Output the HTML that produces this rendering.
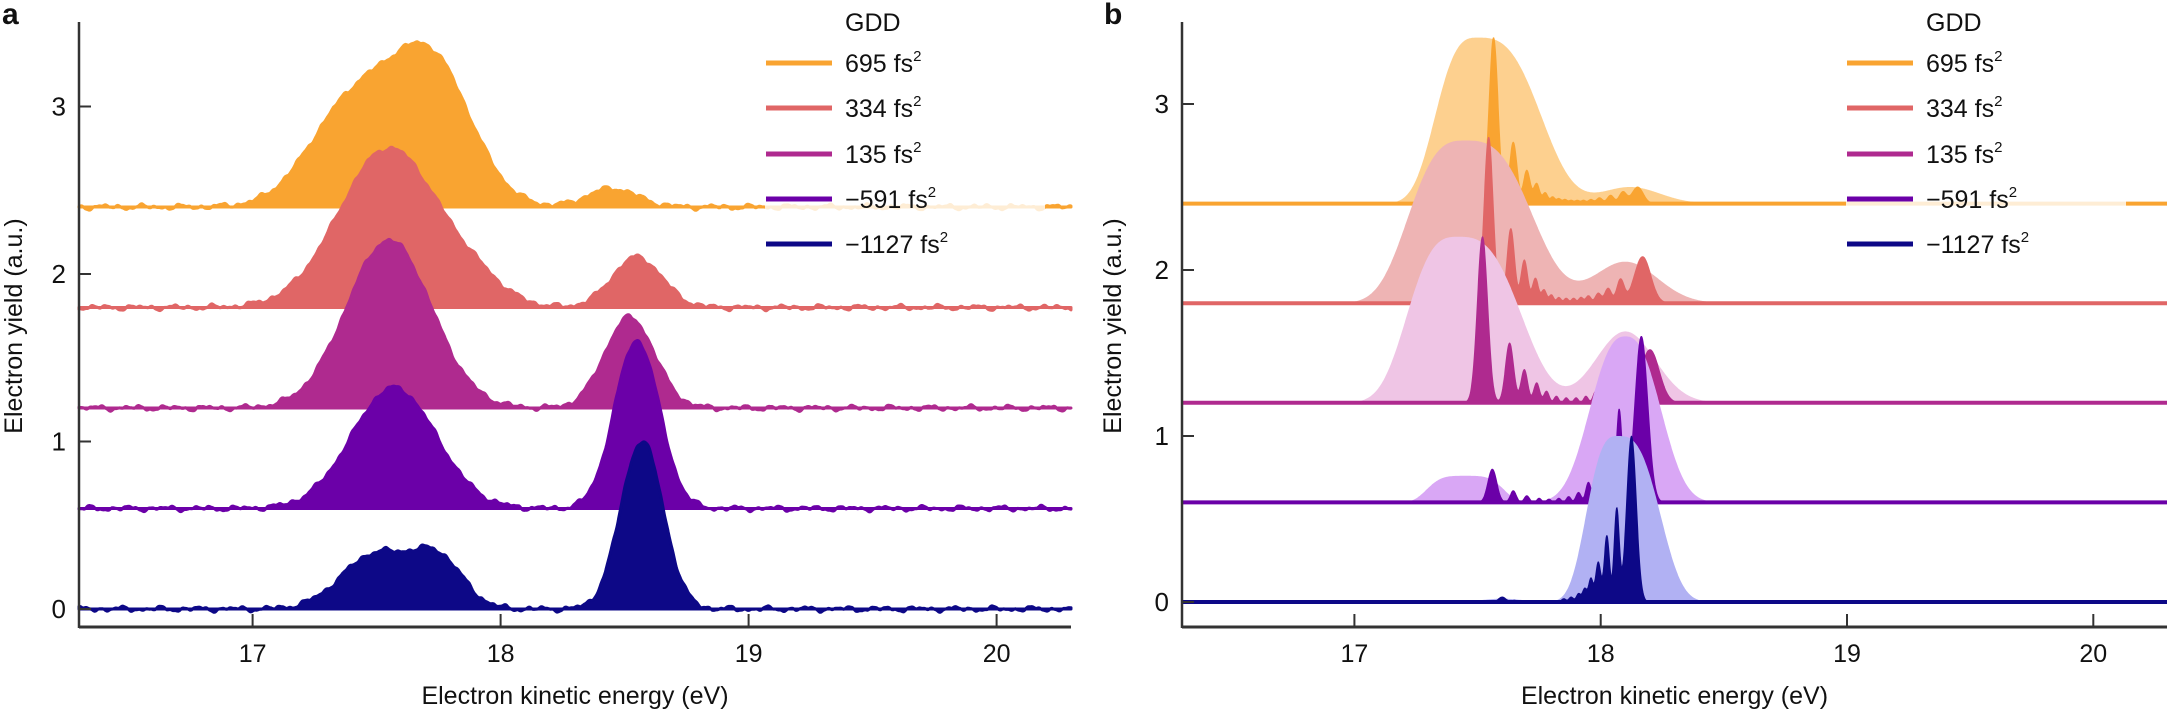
<!DOCTYPE html>
<html><head><meta charset="utf-8"><style>
html,body{margin:0;padding:0;background:#fff;}
svg{display:block;font-family:"Liberation Sans",Arial,sans-serif;}
</style></head><body>
<svg id="s" width="2167" height="710" viewBox="0 0 2167 710" xmlns="http://www.w3.org/2000/svg">
<g id="plots"></g>
<g id="ov"></g>
</svg>
<script>
const NS="http://www.w3.org/2000/svg";
const plots=document.getElementById('plots'), ov=document.getElementById('ov');
function el(p,t,a,txt){const e=document.createElementNS(NS,t);for(const k in a)e.setAttribute(k,a[k]);if(txt!==undefined)e.textContent=txt;p.appendChild(e);return e;}
const g=(x,m,s)=>Math.exp(-((x-m)*(x-m))/(2*s*s));
const sg=(x,m,w,p)=>Math.exp(-Math.pow(Math.abs((x-m)/w),p));
const asg=(x,m,wl,wr,p)=>Math.exp(-Math.pow(Math.abs((x-m)/(x<m?wl:wr)),p));
const pa={x0:79,k:248,y0:609,ky:167.5,x1:1071};
const pb={x0:1182,k:246.3,y0:602,ky:166,x1:2167};
const X=(E,p)=>p.x0+(E-16.3)*p.k, Y=(v,p)=>p.y0-v*p.ky;
function noise(E,s){return 0.008*Math.sin(E*41+s)+0.006*Math.sin(E*77+s*3)+0.005*Math.sin(E*131+s*7)+0.002*Math.sin(E*260+s*2);}
function area(p,base,f,fill,stroke,sw,parent){
  let d="M"+X(16.3,p).toFixed(1)+","+Y(base,p).toFixed(1);
  for(let E=16.3;E<=20.3001;E+=0.002){d+="L"+X(E,p).toFixed(1)+","+Y(base+f(E),p).toFixed(1);}
  d+="L"+X(20.3,p).toFixed(1)+","+Y(base,p).toFixed(1)+"Z";
  el(parent||plots,'path',{d:d,fill:fill,stroke:stroke||'none','stroke-width':sw||0,'stroke-linejoin':'round'});
}
const C=['#F9A431','#E06666','#AF2A8F','#6B00A8','#0D0887'];
const L=['#FDD08F','#EEB4B4','#EFC5E5','#D9A7F5','#B1B1F3'];
const bases=[2.4,1.8,1.2,0.6,0];
const fa=[
 E=>0.6*g(E,17.4,0.17)+0.85*g(E,17.72,0.16)+0.11*g(E,18.45,0.1)+noise(E,1),
 E=>0.95*g(E,17.55,0.2)+0.1*g(E,17.9,0.12)+0.3*g(E,18.55,0.1)+noise(E,2),
 E=>1.0*g(E,17.55,0.17)+0.54*g(E,18.52,0.1)+noise(E,3),
 E=>0.72*g(E,17.57,0.17)+1.0*g(E,18.55,0.09)+noise(E,4),
 E=>0.33*g(E,17.5,0.14)+0.28*g(E,17.75,0.1)+1.0*g(E,18.57,0.085)+noise(E,5)
];
for(let i=0;i<5;i++)area(pa,bases[i],fa[i],C[i],C[i],3);
function peaks(list,m){m=m||1;return E=>{let s=0;for(const q of list)s+=q[1]*g(E,q[0],q[2]*(q[1]>0.5?1.3:1.5));return s;};}
const envb=[
 E=>1.0*asg(E,17.5,0.2,0.3,3)+0.1*g(E,18.12,0.12),
 E=>0.98*asg(E,17.45,0.27,0.32,3)+0.25*g(E,18.1,0.13),
 E=>1.0*asg(E,17.42,0.24,0.3,3)+0.43*g(E,18.1,0.12),
 E=>0.16*sg(E,17.45,0.17,4)+1.0*sg(E,18.1,0.18,2.5),
 E=>1.0*asg(E,18.07,0.15,0.2,3)+0.02*g(E,17.6,0.08)
];
const frb=[
 peaks([[17.565,1.0,.014],[17.645,.37,.01],[17.70,.2,.009],[17.74,.12,.008],[17.775,.065,.007],[17.805,.04,.006],[17.83,.03,.006],[17.855,.025,.006],[17.88,.02,.006],[17.905,.02,.006],[17.93,.02,.006],[17.96,.025,.007],[17.995,.035,.008],[18.04,.05,.009],[18.09,.07,.01],[18.15,.1,.015]]),
 peaks([[17.545,1.0,.014],[17.635,.45,.01],[17.69,.26,.009],[17.735,.15,.008],[17.77,.08,.007],[17.8,.05,.006],[17.83,.035,.006],[17.86,.03,.006],[17.89,.03,.006],[17.92,.035,.006],[17.95,.045,.007],[17.99,.06,.008],[18.03,.09,.009],[18.08,.14,.01],[18.17,.28,.022]]),
 peaks([[17.52,1.0,.016],[17.63,.36,.011],[17.69,.2,.009],[17.74,.12,.008],[17.78,.07,.007],[17.82,.04,.006],[17.86,.03,.006],[17.9,.03,.006],[17.94,.04,.006],[17.98,.07,.007],[18.02,.12,.008],[18.2,.32,.025]]),
 peaks([[17.56,0.2,.012],[17.645,.07,.008],[17.7,.04,.007],[17.75,.025,.006],[17.79,.02,.006],[17.83,.025,.006],[17.87,.035,.006],[17.91,.06,.007],[17.95,.12,.007],[17.99,.22,.008],[18.03,.37,.008],[18.075,.56,.009],[18.165,1.0,.02]]),
 peaks([[17.6,.03,.01],[17.65,.01,.008],[17.85,.02,.006],[17.88,.03,.006],[17.91,.05,.006],[17.935,.08,.006],[17.96,.14,.006],[17.99,.24,.007],[18.025,.4,.007],[18.065,.56,.008],[18.125,1.0,.015]])
];
for(let i=0;i<5;i++){
  area(pb,bases[i],envb[i],L[i]);
  area(pb,bases[i],frb[i],C[i],C[i],1);
  el(plots,'line',{x1:pb.x0,x2:pb.x1,y1:Y(bases[i],pb),y2:Y(bases[i],pb),stroke:C[i],'stroke-width':4});
}
function axes(p,ylx,legx,lab,labx){
  el(ov,'rect',{x:legx-80,y:0,width:280,height:262,fill:'#fff','fill-opacity':0.8});
  el(ov,'line',{x1:p.x0,x2:p.x0,y1:22,y2:628,stroke:'#333','stroke-width':2.5});
  el(ov,'line',{x1:p.x0,x2:p.x1,y1:627,y2:627,stroke:'#333','stroke-width':3});
  for(let v=0;v<=3;v++){const y=Y(v,p);
    el(ov,'line',{x1:p.x0,x2:p.x0+12,y1:y,y2:y,stroke:'#333','stroke-width':2});
    el(ov,'text',{x:p.x0-13,y:y+9,'font-size':26,'text-anchor':'end',fill:'#111'},String(v));}
  for(let E=17;E<=20;E++){const x=X(E,p);
    el(ov,'line',{x1:x,x2:x,y1:627,y2:614,stroke:'#333','stroke-width':2});
    el(ov,'text',{x:x,y:662,'font-size':25,'text-anchor':'middle',fill:'#111'},String(E));}
  el(ov,'text',{x:(p.x0+p.x1)/2,y:704,'font-size':25,'text-anchor':'middle',fill:'#111'},'Electron kinetic energy (eV)');
  el(ov,'text',{x:0,y:0,'font-size':25,'text-anchor':'middle',fill:'#111',transform:`translate(${ylx},326) rotate(-90)`},'Electron yield (a.u.)');
  el(ov,'text',{x:labx,y:24,'font-size':30,'font-weight':'bold',fill:'#111'},lab);
  el(ov,'text',{x:legx,y:31,'font-size':25,fill:'#111'},'GDD');
  const names=['695','334','135','\u2212591','\u22121127'];
  const ys=[63,108,154,199,244];
  for(let i=0;i<5;i++){
    el(ov,'line',{x1:legx-79,x2:legx-13,y1:ys[i],y2:ys[i],stroke:C[i],'stroke-width':5});
    const t=el(ov,'text',{x:legx,y:ys[i]+9,'font-size':25,fill:'#111'},names[i]+' fs');
    el(t,'tspan',{'font-size':15,dy:-11},'2');
  }
}
axes(pa,22,845,'a',2);
axes(pb,1121,1926,'b',1104);
</script>
</body></html>
